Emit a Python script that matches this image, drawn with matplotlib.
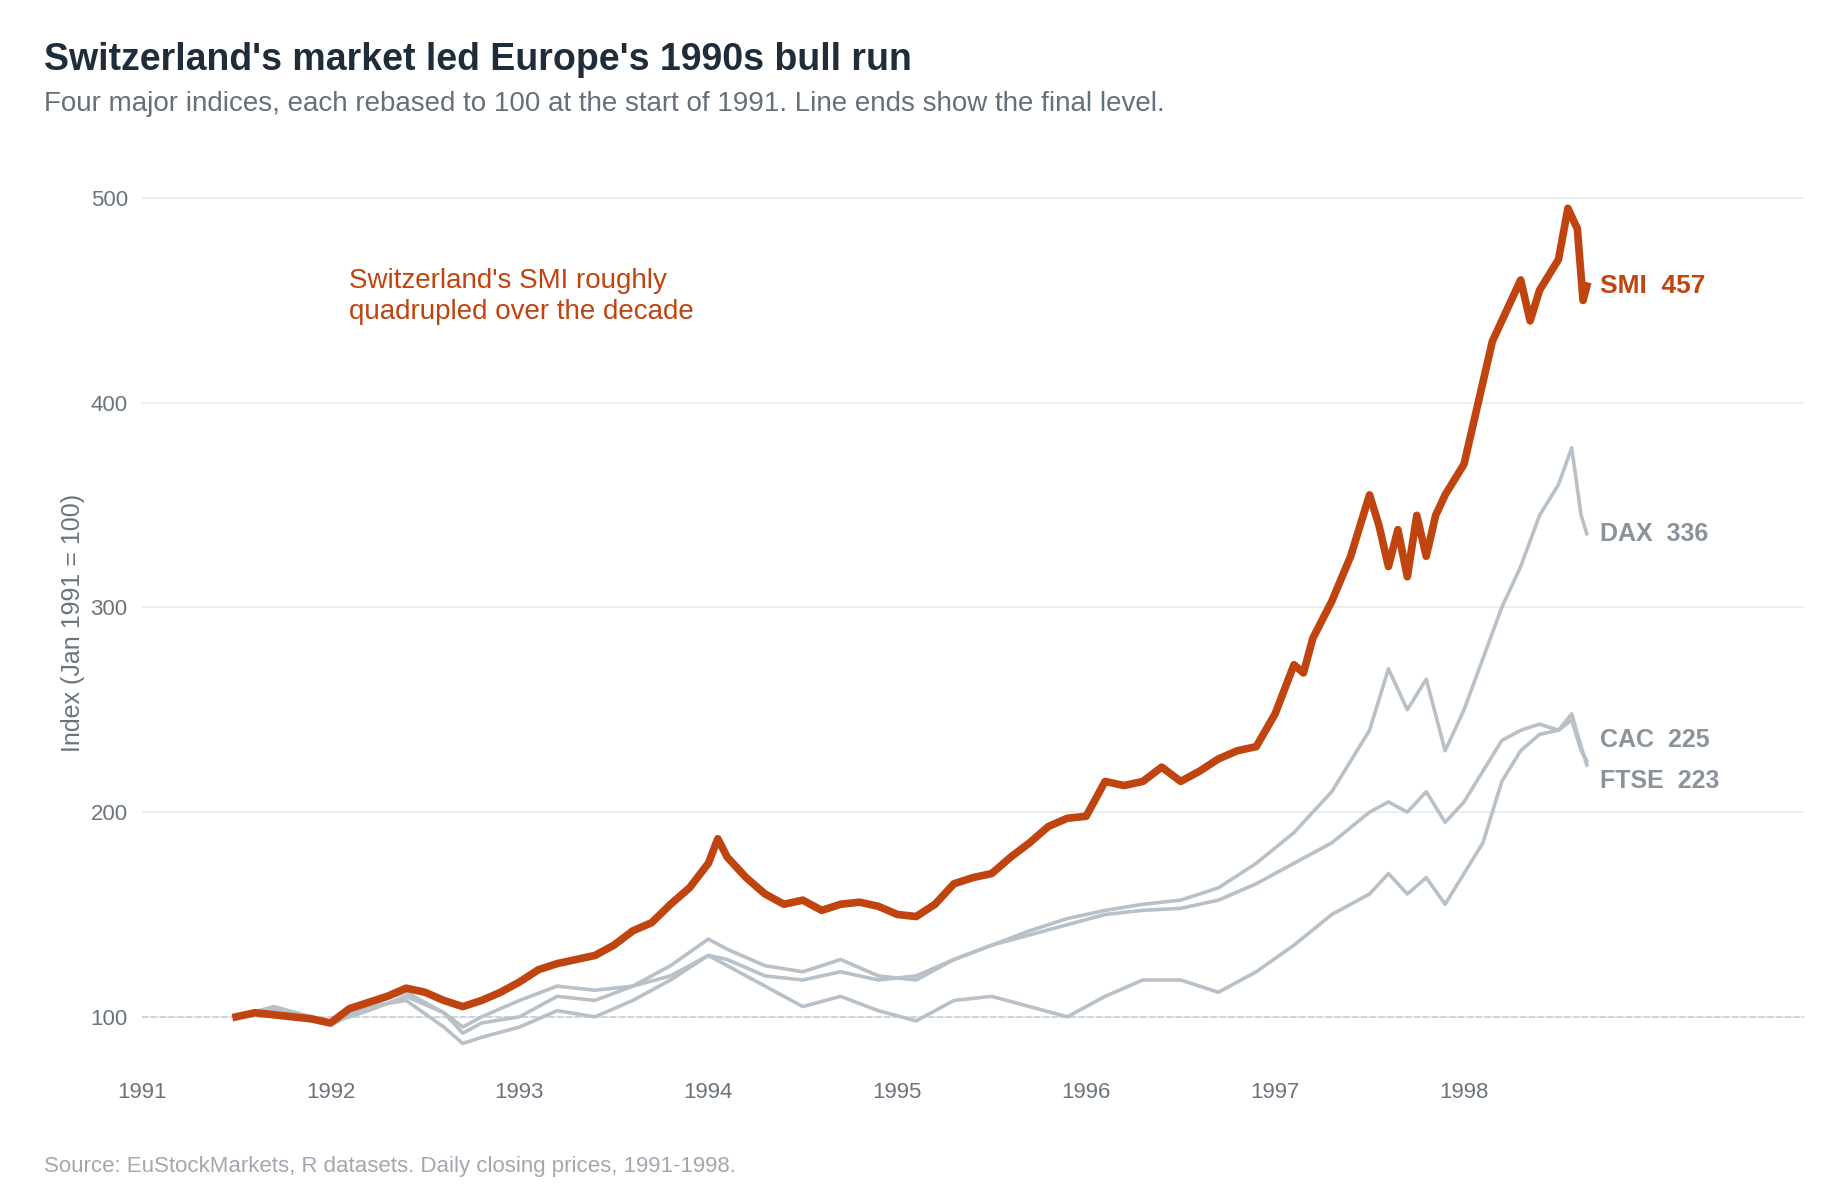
import matplotlib.pyplot as plt

plt.rcParams['font.family'] = ['Liberation Sans', 'DejaVu Sans']

# values, rebased Jan 1991 = 100
smi_t = [1991.5, 1991.6, 1991.7, 1991.8, 1991.9, 1992.0, 1992.1, 1992.2, 1992.3, 1992.4, 1992.5, 1992.6,
         1992.7, 1992.8, 1992.9, 1993.0, 1993.1, 1993.2, 1993.3, 1993.4, 1993.5, 1993.6, 1993.7, 1993.8,
         1993.9, 1994.0, 1994.05, 1994.1, 1994.2, 1994.3, 1994.4, 1994.5, 1994.6, 1994.7, 1994.8, 1994.9,
         1995.0, 1995.1, 1995.2, 1995.3, 1995.4, 1995.5, 1995.6, 1995.7, 1995.8, 1995.9, 1996.0, 1996.1,
         1996.2, 1996.3, 1996.4, 1996.5, 1996.6, 1996.7, 1996.8, 1996.9, 1997.0, 1997.1, 1997.15, 1997.2,
         1997.3, 1997.4, 1997.5, 1997.55, 1997.6, 1997.65, 1997.7, 1997.75, 1997.8, 1997.85, 1997.9,
         1998.0, 1998.1, 1998.15, 1998.2, 1998.3, 1998.35, 1998.4, 1998.5, 1998.55, 1998.6, 1998.63, 1998.65]
smi = [100, 102, 101, 100, 99, 97, 104, 107, 110, 114, 112, 108,
       105, 108, 112, 117, 123, 126, 128, 130, 135, 142, 146, 155,
       163, 175, 187, 178, 168, 160, 155, 157, 152, 155, 156, 154,
       150, 149, 155, 165, 168, 170, 178, 185, 193, 197, 198, 215,
       213, 215, 222, 215, 220, 226, 230, 232, 248, 272, 268, 285,
       303, 325, 355, 340, 320, 338, 315, 345, 325, 345, 355,
       370, 410, 430, 440, 460, 440, 455, 470, 495, 485, 450, 457]

gray_t = [1991.5, 1991.7, 1991.9, 1992.0, 1992.2, 1992.4, 1992.6, 1992.7, 1992.8, 1993.0, 1993.2, 1993.4,
          1993.6, 1993.8, 1994.0, 1994.1, 1994.3, 1994.5, 1994.7, 1994.9, 1995.1, 1995.3, 1995.5, 1995.7,
          1995.9, 1996.1, 1996.3, 1996.5, 1996.7, 1996.9, 1997.1, 1997.3, 1997.5, 1997.6, 1997.7, 1997.8,
          1997.9, 1998.0, 1998.1, 1998.2, 1998.3, 1998.4, 1998.5, 1998.57, 1998.62, 1998.65]
dax = [100, 105, 100, 97, 106, 112, 102, 92, 97, 100, 110, 108,
       115, 125, 138, 133, 125, 122, 128, 120, 118, 128, 135, 142,
       148, 152, 155, 157, 163, 175, 190, 210, 240, 270, 250, 265,
       230, 250, 275, 300, 320, 345, 360, 378, 345, 336]
ftse = [100, 103, 100, 97, 103, 110, 102, 95, 100, 108, 115, 113,
        115, 120, 130, 128, 120, 118, 122, 118, 120, 128, 135, 140,
        145, 150, 152, 153, 157, 165, 175, 185, 200, 205, 200, 210,
        195, 205, 220, 235, 240, 243, 240, 248, 232, 223]
cac = [100, 104, 98, 96, 105, 108, 95, 87, 90, 95, 103, 100,
       108, 118, 130, 125, 115, 105, 110, 103, 98, 108, 110, 105,
       100, 110, 118, 118, 112, 122, 135, 150, 160, 170, 160, 168,
       155, 170, 185, 215, 230, 238, 240, 245, 230, 225]

orange = '#c0440f'
gray = '#b8c0c8'
labgray = '#8a939b'

fig = plt.figure(figsize=(18.39, 12), dpi=100)
ax = fig.add_axes([0.077, 0.11, 0.904, 0.742])

for vals in (dax, ftse, cac):
    ax.plot(gray_t, vals, color=gray, lw=2.6, zorder=2)
ax.plot(smi_t, smi, color=orange, lw=5.5, zorder=3)

ax.axhline(100, color='#c8d0d6', lw=1.2, ls='--', zorder=1)
ax.set_xlim(1991, 1999.8)
ax.set_ylim(75, 510)
ax.set_xticks(range(1991, 1999))
ax.set_yticks([100, 200, 300, 400, 500])
ax.grid(axis='y', color='#e8eaec', lw=1.2)
ax.set_axisbelow(True)
for s in ax.spines.values():
    s.set_visible(False)
ax.tick_params(length=0, labelsize=16, colors='#6b747c', pad=10)
ax.set_ylabel('Index (Jan 1991 = 100)', fontsize=18, color='#6b747c')

lx = 1998.72
ax.text(lx, 457, 'SMI  457', color=orange, fontsize=19, fontweight='bold', va='center')
ax.text(lx, 336, 'DAX  336', color=labgray, fontsize=18, fontweight='bold', va='center')
ax.text(lx, 235, 'CAC  225', color=labgray, fontsize=18, fontweight='bold', va='center')
ax.text(lx, 215, 'FTSE  223', color=labgray, fontsize=18, fontweight='bold', va='center')

ax.text(1992.1, 452, "Switzerland's SMI roughly\nquadrupled over the decade",
        color=orange, fontsize=20, va='center', linespacing=1.25)

fig.text(0.024, 0.95, "Switzerland's market led Europe's 1990s bull run",
         fontsize=27, fontweight='bold', color='#1f2d3a', va='center')
fig.text(0.024, 0.913, "Four major indices, each rebased to 100 at the start of 1991. Line ends show the final level.",
         fontsize=20, color='#66707a', va='center')
fig.text(0.024, 0.028, "Source: EuStockMarkets, R datasets. Daily closing prices, 1991-1998.",
         fontsize=16, color='#a0a8b0', va='center')

fig.savefig('out.png', dpi=100, facecolor='white')
